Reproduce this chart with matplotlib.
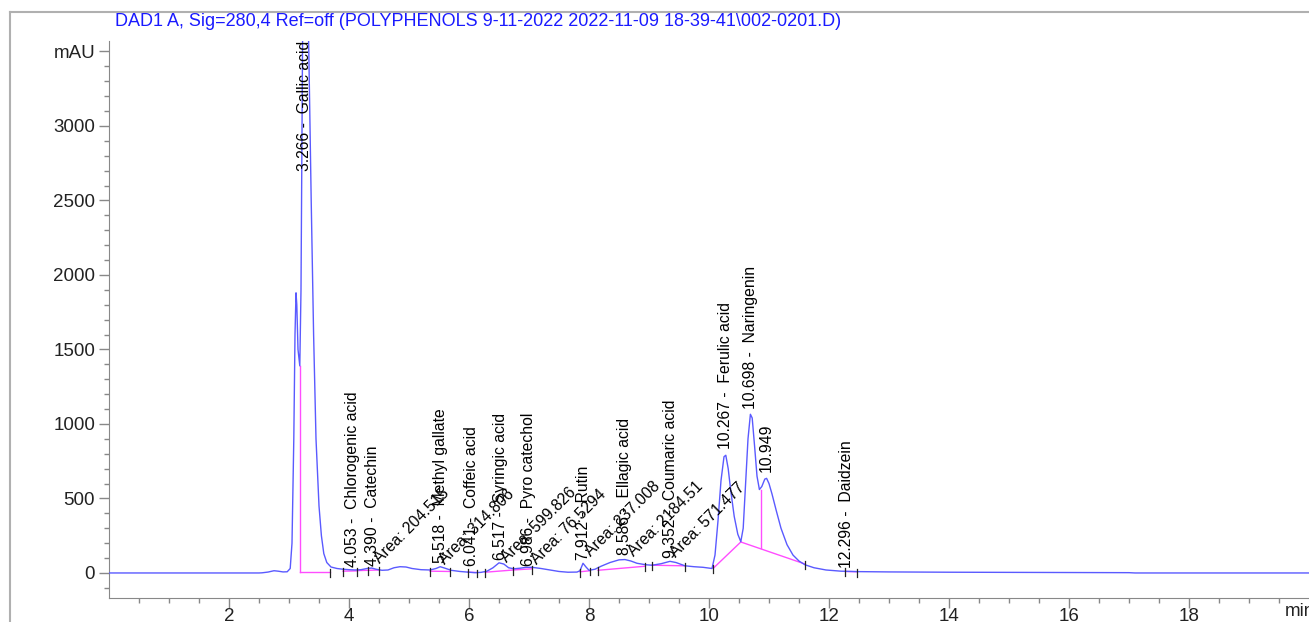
import matplotlib
matplotlib.use('Agg')
import matplotlib.pyplot as plt
from matplotlib.lines import Line2D
import matplotlib.transforms as mtransforms

plt.rcParams['font.family'] = ['Liberation Sans', 'DejaVu Sans']

# chromatogram trace: time (min), signal (mAU)
trace_t = [0.0, 2.5, 2.55, 2.65, 2.75, 2.82, 2.9, 2.97, 3.02, 3.05, 3.08, 3.10, 3.117, 3.13, 3.15, 3.18,
           3.20, 3.225, 3.245, 3.266, 3.29, 3.33, 3.37, 3.41, 3.45, 3.50, 3.54, 3.58, 3.63, 3.70, 3.80,
           3.9, 4.0, 4.1, 4.2, 4.3, 4.38, 4.45, 4.55, 4.65, 4.75, 4.85, 4.95, 5.05, 5.2, 5.35, 5.45,
           5.52, 5.6, 5.7, 5.85, 6.0, 6.1, 6.2, 6.3, 6.4, 6.5, 6.58, 6.66, 6.75, 6.85, 6.95, 7.05,
           7.2, 7.35, 7.5, 7.65, 7.8, 7.85, 7.9, 7.95, 8.0, 8.1, 8.2, 8.35, 8.5, 8.6, 8.7, 8.8, 8.95,
           9.05, 9.2, 9.35, 9.45, 9.6, 9.75, 9.9, 10.05, 10.1, 10.15, 10.2, 10.25, 10.28, 10.32, 10.36,
           10.42, 10.48, 10.53, 10.57, 10.61, 10.65, 10.69, 10.72, 10.76, 10.8, 10.84, 10.88, 10.93,
           10.96, 11.0, 11.05, 11.12, 11.2, 11.3, 11.4, 11.5, 11.6, 11.75, 11.95, 12.2, 12.5, 13.0,
           14.0, 16.0, 17.0, 17.1, 20.0]
trace_mau = [0, 0, 1, 6, 15, 12, 7, 8, 30, 200, 900, 1600, 1880, 1800, 1500, 1390,
             1900, 3500, 4500, 4800, 4400, 3500, 2500, 1600, 900, 450, 250, 130, 70, 40, 30,
             25, 22, 20, 22, 30, 33, 25, 18, 20, 35, 42, 40, 30, 22, 20, 30,
             42, 32, 18, 10, 5, 2, 4, 12, 35, 68, 60, 35, 28, 32, 38, 38,
             30, 20, 10, 5, 6, 15, 65, 40, 18, 25, 45, 70, 88, 90, 80, 65, 55,
             52, 62, 78, 70, 48, 42, 38, 30, 120, 350, 620, 780, 790, 700, 560,
             380, 260, 210, 300, 600, 900, 1065, 1040, 850, 650, 560, 580, 630,
             635, 600, 530, 420, 300, 190, 120, 80, 55, 35, 20, 12, 9, 7,
             5, 3, 2, 0, 0]

# integration baselines: (t0, mAU0, t1, mAU1)
base_segs = [(3.18, 8, 3.18, 1390), (3.18, 8, 3.68, 8), (3.90, 12, 4.13, 14), (4.15, 16, 4.50, 20),
             (5.35, 12, 5.68, 10), (5.98, 5, 6.13, 3), (6.27, 5, 6.74, 20), (6.74, 20, 7.05, 28),
             (7.85, 8, 8.02, 15), (8.15, 18, 8.93, 45), (9.05, 52, 9.60, 48),
             (10.07, 31, 10.53, 208), (10.53, 208, 11.60, 60), (10.86, 170, 10.86, 557),
             (12.27, 10, 12.47, 8)]
# peak start / end markers
mark_t = [3.68, 3.90, 4.13, 4.32, 4.50, 5.35, 5.68, 5.98, 6.13, 6.27, 6.74, 7.05, 7.85, 8.02,
          8.15, 8.93, 9.05, 9.60, 10.07, 11.60, 12.27, 12.47]
mark_mau = [8, 12, 14, 18, 20, 12, 10, 5, 3, 5, 20, 28, 8, 15, 18, 45, 52, 48, 31, 60, 10, 8]

peak_t = [3.266, 4.053, 4.390, 5.518, 6.041, 6.517, 6.986, 7.912, 8.586, 9.352,
          10.267, 10.698, 10.949, 12.296]
peak_names = ['Gallic acid', 'Chlorogenic acid', 'Catechin', 'Methyl gallate', 'Coffeic acid',
              'Syringic acid', 'Pyro catechol', 'Rutin', 'Ellagic acid', 'Coumaric acid',
              'Ferulic acid', 'Naringenin', '', 'Daidzein']
label_mau = [2700, 40, 50, 65, 50, 85, 50, 85, 120, 100, 830, 1100, 680, 30]

area_t = [4.52, 5.60, 6.63, 7.13, 8.03, 8.75, 9.45]
area_vals = ['204.515', '314.806', '599.826', '76.5294', '237.008', '2184.51', '571.477']
area_mau = [60, 55, 65, 55, 105, 105, 100]

yticks = [0, 500, 1000, 1500, 2000, 2500, 3000, 3500]
ylabels = ['0', '500', '1000', '1500', '2000', '2500', '3000', 'mAU']
xticks = [2, 4, 6, 8, 10, 12, 14, 16, 18]
xlabels = ['2', '4', '6', '8', '10', '12', '14', '16', '18']

title = 'DAD1 A, Sig=280,4 Ref=off (POLYPHENOLS 9-11-2022 2022-11-09 18-39-41\\002-0201.D)'

W, H = 1309, 622
fig = plt.figure(figsize=(W / 100, H / 100), dpi=100)
ax = fig.add_axes([109 / W, 24 / H, 1200 / W, 557 / H])

ax.plot(trace_t, trace_mau, color='#5a5aff', lw=1.0, zorder=3)
for t0, y0, t1, y1 in base_segs:
    ax.plot([t0, t1], [y0, y1], color='#ff4dff', lw=1.0, zorder=2)
for t, y in zip(mark_t, mark_mau):
    ax.plot([t, t], [y - 32, y + 20], color='#222222', lw=0.9, zorder=4)

for t, name, y in zip(peak_t, peak_names, label_mau):
    s = '%.3f' % t if name == '' else '%.3f -  %s' % (t, name)
    ax.text(t, y, s, rotation=90, rotation_mode='anchor', ha='left', va='center',
            fontsize=11.3, color='black', zorder=5)
for t, v, y in zip(area_t, area_vals, area_mau):
    ax.text(t, y, 'Area: ' + v, rotation=45, rotation_mode='anchor', ha='left',
            va='baseline', fontsize=11.3, color='black', zorder=5)

ax.set_xlim(0, 20)
ax.set_ylim(-168, 3570)
ax.set_yticks(yticks)
ax.set_yticklabels(ylabels)
ax.set_yticks(range(-100, 3600, 100), minor=True)
ax.set_xticks(xticks)
ax.set_xticklabels(xlabels)
ax.set_xticks([x * 0.5 for x in range(1, 40)], minor=True)
ax.tick_params(which='major', length=7, width=1, color='#888888', labelsize=13.5,
               labelcolor='#222222', pad=3)
ax.tick_params(axis='x', which='major', pad=0.5)
ax.tick_params(which='minor', length=3.5, width=1, color='#888888')
for sp in ['top', 'right']:
    ax.spines[sp].set_visible(False)
for sp in ['left', 'bottom']:
    ax.spines[sp].set_color('#888888')

# unit label at the right end of the time axis
trans = mtransforms.blended_transform_factory(ax.transData, fig.transFigure)
fig.text(19.85, 1 - 612 / H, 'min', transform=trans, fontsize=13.5, color='#222222',
         ha='center', va='center')

# outer frame of the report page
fig.add_artist(Line2D([10 / W, 10 / W], [0, 1 - 12 / H], color='#b0b0b0', lw=1.5))
fig.add_artist(Line2D([10 / W, 1], [1 - 12 / H, 1 - 12 / H], color='#b0b0b0', lw=1.5))
fig.text(115 / W, 1 - 21 / H, title, color='#1a1aff', fontsize=13, ha='left', va='center')

fig.savefig('out.png', dpi=100)
